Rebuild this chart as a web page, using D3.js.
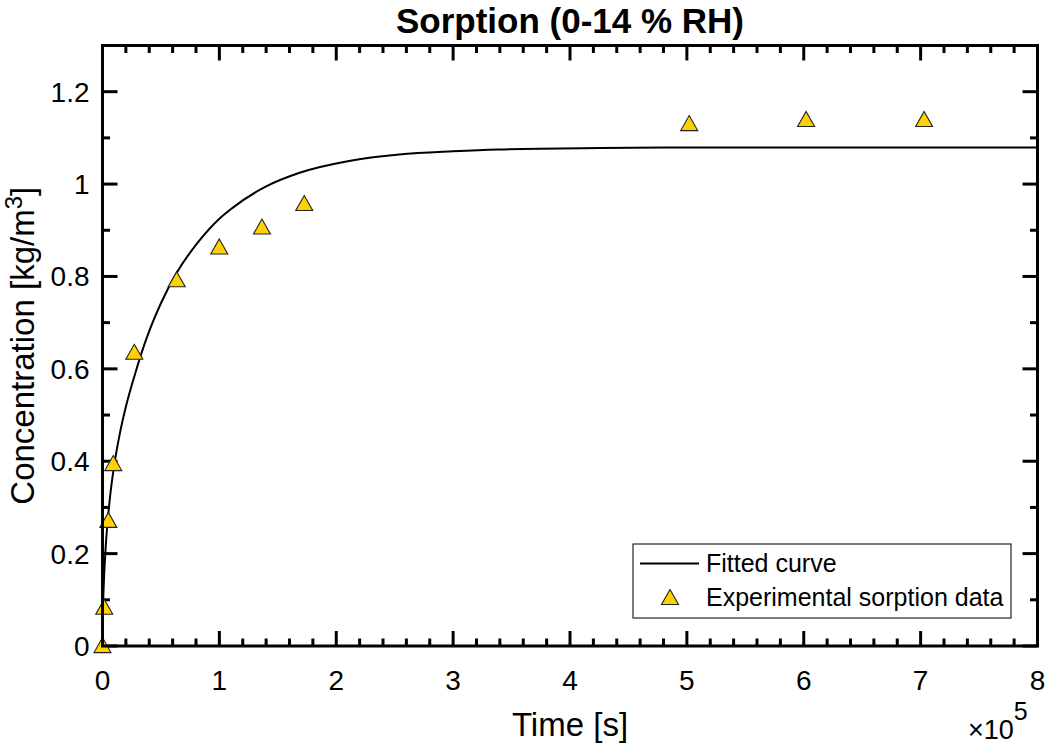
<!DOCTYPE html>
<html>
<head>
<meta charset="utf-8">
<script src="https://cdn.jsdelivr.net/npm/d3@7"></script>
<style>
  body { margin: 0; background: #fff; }
  svg { display: block; font-family: "Liberation Sans", Arial, Helvetica, sans-serif; }
</style>
</head>
<body>
<svg id="chart" width="1048" height="746"></svg>
<script>
// ---- Data (time in units of 1e5 s) ----
const title = "Sorption (0-14 % RH)";
const xLabel = "Time [s]";
const expTime = [0, 0.015, 0.05, 0.092, 0.272, 0.635, 0.999, 1.364, 1.726, 5.02, 6.02, 7.03];
const expConc = [0.002, 0.085, 0.273, 0.396, 0.637, 0.794, 0.865, 0.908, 0.959, 1.132, 1.141, 1.141];
const fitTime = [0, 0.002, 0.005, 0.011, 0.025, 0.045, 0.07, 0.103, 0.15, 0.2, 0.28, 0.335, 0.39, 0.5, 0.63, 0.83, 1.0, 1.11, 1.4, 1.68, 2.11, 2.54, 3.0, 3.39, 4.25, 5, 6, 7, 8];
const fitConc = [0, 0.055, 0.09, 0.135, 0.205, 0.273, 0.335, 0.396, 0.462, 0.518, 0.59, 0.635, 0.675, 0.742, 0.806, 0.878, 0.925, 0.948, 0.995, 1.024, 1.050, 1.064, 1.071, 1.075, 1.078, 1.079, 1.079, 1.079, 1.079];
const xMajorTicks = [0, 1, 2, 3, 4, 5, 6, 7, 8];
const yMajorTicks = [0, 0.2, 0.4, 0.6, 0.8, 1.0, 1.2];
const yTickLabels = ["0", "0.2", "0.4", "0.6", "0.8", "1", "1.2"];
const legendLabels = ["Fitted curve", "Experimental sorption data"];

// ---- Layout ----
const L = 102.5, R = 1037.5, T = 45.5, B = 646;
const svg = d3.select("#chart");
const x = d3.scaleLinear().domain([0, 8]).range([L, R]);
const y = d3.scaleLinear().domain([0, 1.3]).range([B, T]);

const xMinor = d3.range(0, 8.0001, 0.2).filter(v => Math.abs(v - Math.round(v)) > 1e-6);
const yMinor = d3.range(0, 1.3001, 0.1).filter(v => Math.abs(v * 5 - Math.round(v * 5)) > 1e-6);

const MAJ = 15, MIN = 7.5, TW = 3;
const ticksG = svg.append("g").attr("stroke", "#000").attr("stroke-width", TW);
function xt(vals, len) {
  vals.forEach(v => {
    ticksG.append("line").attr("x1", x(v)).attr("x2", x(v)).attr("y1", B).attr("y2", B - len);
    ticksG.append("line").attr("x1", x(v)).attr("x2", x(v)).attr("y1", T).attr("y2", T + len);
  });
}
function yt(vals, len) {
  vals.forEach(v => {
    ticksG.append("line").attr("y1", y(v)).attr("y2", y(v)).attr("x1", L).attr("x2", L + len);
    ticksG.append("line").attr("y1", y(v)).attr("y2", y(v)).attr("x1", R).attr("x2", R - len);
  });
}
xt(xMajorTicks, MAJ); xt(xMinor, MIN);
yt(yMajorTicks, MAJ); yt(yMinor, MIN);

// fitted curve
const line = d3.line().x((d, i) => x(fitTime[i])).y(d => y(d)).curve(d3.curveMonotoneX);
svg.append("path").datum(fitConc).attr("d", line)
  .attr("fill", "none").attr("stroke", "#000").attr("stroke-width", 2);

// markers
const tri = "M0,-7.5L8.5,7.5L-8.5,7.5Z";
svg.append("g").selectAll("path").data(expConc).join("path")
  .attr("d", tri)
  .attr("transform", (d, i) => `translate(${x(expTime[i])},${y(d)})`)
  .attr("fill", "#FFD100").attr("stroke", "#222").attr("stroke-width", 1.1);

// axes box
svg.append("rect").attr("x", L).attr("y", T).attr("width", R - L).attr("height", B - T)
  .attr("fill", "none").attr("stroke", "#000").attr("stroke-width", TW);

// tick labels
svg.append("g").selectAll("text").data(xMajorTicks).join("text")
  .attr("x", d => x(d)).attr("y", B + 44).attr("text-anchor", "middle")
  .attr("font-size", 28).text(d => d);
svg.append("g").selectAll("text").data(yMajorTicks).join("text")
  .attr("x", L - 13).attr("y", d => y(d) + 10).attr("text-anchor", "end")
  .attr("font-size", 28).text((d, i) => yTickLabels[i]);

// exponent
const ex = svg.append("text").attr("x", 968).attr("y", 739).attr("text-anchor", "start").attr("font-size", 27);
ex.append("tspan").text("\u00D710");
ex.append("tspan").attr("dy", -19).attr("font-size", 25).text("5");

// title
svg.append("text").attr("x", (L + R) / 2).attr("y", 33).attr("text-anchor", "middle")
  .attr("font-size", 35).attr("font-weight", "bold").text(title);

// axis labels
svg.append("text").attr("x", (L + R) / 2).attr("y", 736).attr("text-anchor", "middle")
  .attr("font-size", 33).text(xLabel);
const yl = svg.append("text").attr("transform", `translate(34,${(T + B) / 2}) rotate(-90)`)
  .attr("text-anchor", "middle").attr("font-size", 33);
yl.append("tspan").text("Concentration [kg/m");
yl.append("tspan").attr("dy", -12).attr("font-size", 24).text("3");
yl.append("tspan").attr("dy", 12).text("]");

// legend
const lg = svg.append("g");
lg.append("rect").attr("x", 633).attr("y", 544).attr("width", 378).attr("height", 74)
  .attr("fill", "#fff").attr("stroke", "#262626").attr("stroke-width", 1.2);
lg.append("line").attr("x1", 640).attr("x2", 699).attr("y1", 563.5).attr("y2", 563.5)
  .attr("stroke", "#000").attr("stroke-width", 2);
lg.append("path").attr("d", tri).attr("transform", "translate(670,597)")
  .attr("fill", "#FFD100").attr("stroke", "#222").attr("stroke-width", 1.1);
lg.append("text").attr("x", 706).attr("y", 572).attr("font-size", 25).text(legendLabels[0]);
lg.append("text").attr("x", 706).attr("y", 606).attr("font-size", 25).text(legendLabels[1]);
</script>
</body>
</html>
